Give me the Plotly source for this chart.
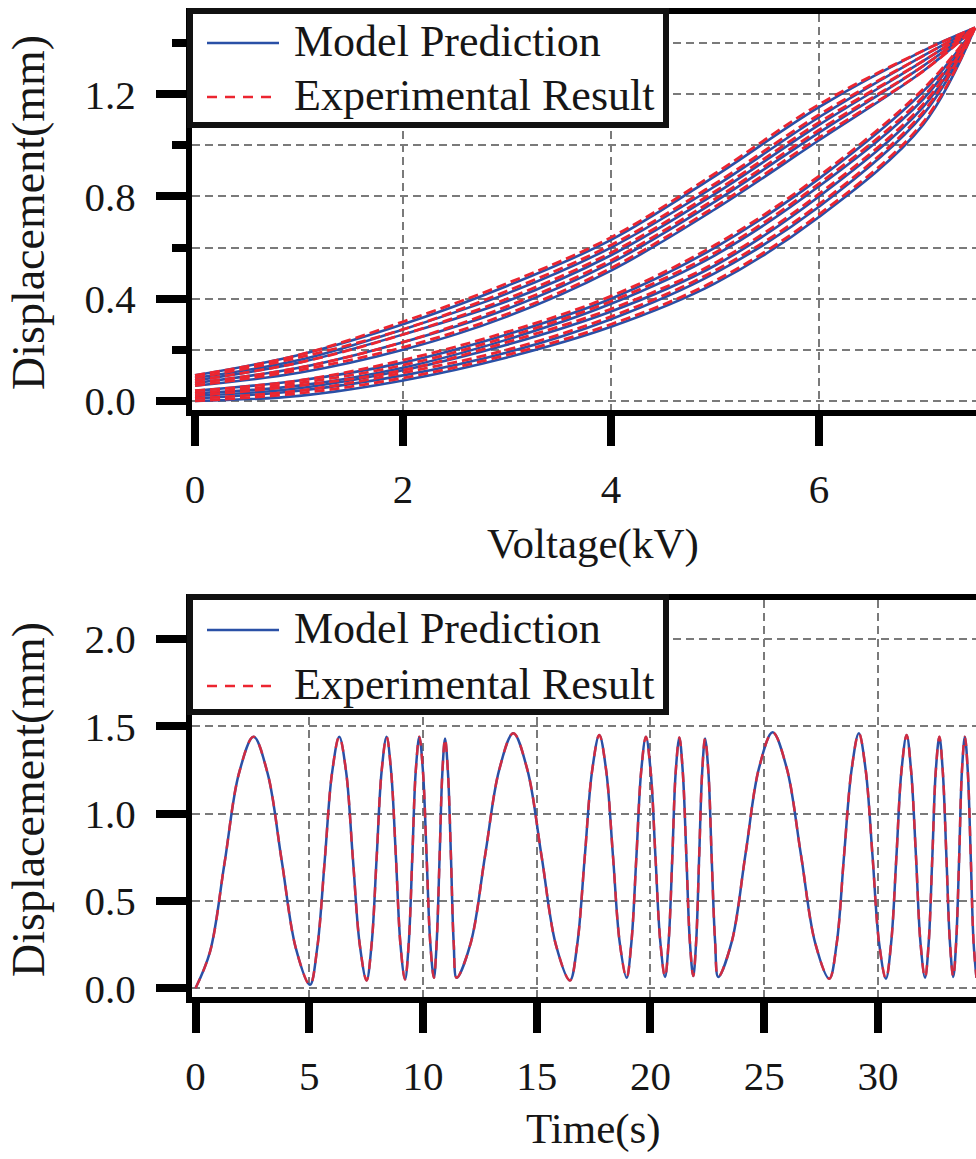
import plotly.graph_objects as go

# ---------------- Data ----------------
# Top panel: displacement (mm) vs voltage (kV), hysteresis loops
voltage_kv = [0, 1, 2, 3, 4, 5, 6, 7, 7.5]

model_rise = [
    [0.00, 0.02, 0.08, 0.17, 0.29, 0.46, 0.72, 1.08, 1.46],
    [0.01, 0.04, 0.10, 0.19, 0.32, 0.50, 0.76, 1.12, 1.46],
    [0.02, 0.05, 0.12, 0.22, 0.35, 0.53, 0.80, 1.15, 1.46],
    [0.03, 0.06, 0.13, 0.24, 0.38, 0.57, 0.84, 1.18, 1.46],
    [0.04, 0.08, 0.15, 0.26, 0.40, 0.60, 0.87, 1.21, 1.46],
]
model_fall = [
    [0.10, 0.18, 0.30, 0.45, 0.63, 0.88, 1.15, 1.37, 1.46],
    [0.09, 0.16, 0.28, 0.42, 0.60, 0.84, 1.11, 1.35, 1.46],
    [0.08, 0.15, 0.26, 0.39, 0.57, 0.81, 1.08, 1.33, 1.46],
    [0.07, 0.13, 0.23, 0.36, 0.54, 0.78, 1.05, 1.31, 1.46],
    [0.06, 0.11, 0.20, 0.33, 0.51, 0.75, 1.02, 1.29, 1.46],
]
exp_rise = [
    [0.00, 0.03, 0.09, 0.18, 0.30, 0.47, 0.73, 1.09, 1.46],
    [0.01, 0.04, 0.11, 0.20, 0.33, 0.51, 0.77, 1.13, 1.46],
    [0.02, 0.06, 0.12, 0.23, 0.36, 0.54, 0.81, 1.16, 1.46],
    [0.03, 0.07, 0.14, 0.25, 0.39, 0.58, 0.85, 1.19, 1.46],
    [0.04, 0.08, 0.16, 0.27, 0.41, 0.61, 0.88, 1.22, 1.46],
]
exp_fall = [
    [0.10, 0.18, 0.31, 0.46, 0.64, 0.89, 1.16, 1.37, 1.46],
    [0.09, 0.17, 0.28, 0.43, 0.61, 0.85, 1.12, 1.35, 1.46],
    [0.08, 0.15, 0.26, 0.40, 0.58, 0.82, 1.09, 1.33, 1.46],
    [0.07, 0.13, 0.23, 0.37, 0.55, 0.79, 1.06, 1.31, 1.46],
    [0.06, 0.12, 0.21, 0.34, 0.52, 0.76, 1.03, 1.29, 1.46],
]

# Bottom panel: displacement (mm) vs time (s)
time_s = [
    0.00, 0.64, 1.28, 1.91, 2.55, 3.17, 3.79, 4.41, 5.03,
    5.35, 5.68, 6.00, 6.32, 6.62, 6.92, 7.22, 7.52,
    7.74, 7.96, 8.18, 8.40, 8.60, 8.81, 9.01, 9.21,
    9.37, 9.53, 9.68, 9.84, 10.00, 10.16, 10.32, 10.48,
    10.60, 10.73, 10.85, 10.97, 11.10, 11.23, 11.35, 11.48,
    12.10, 12.73, 13.35, 13.97, 14.59, 15.22, 15.84, 16.46,
    16.78, 17.11, 17.43, 17.75, 18.05, 18.35, 18.65, 18.95,
    19.16, 19.38, 19.59, 19.80, 20.01, 20.22, 20.43, 20.64,
    20.80, 20.96, 21.11, 21.27, 21.42, 21.58, 21.73, 21.88,
    22.01, 22.14, 22.27, 22.40, 22.55, 22.69, 22.84, 22.98,
    23.58, 24.18, 24.77, 25.37, 25.99, 26.62, 27.24, 27.86,
    28.19, 28.51, 28.84, 29.16, 29.46, 29.76, 30.05, 30.35,
    30.58, 30.81, 31.03, 31.26, 31.46, 31.67, 31.87, 32.07,
    32.23, 32.39, 32.54, 32.70, 32.85, 33.01, 33.16, 33.31,
    33.44, 33.57, 33.69, 33.82, 33.95, 34.08, 34.20, 34.33,
]
model_disp = [
    0.00, 0.21, 0.72, 1.23, 1.44, 1.23, 0.73, 0.23, 0.02,
    0.23, 0.73, 1.23, 1.44, 1.24, 0.74, 0.25, 0.045,
    0.25, 0.74, 1.24, 1.44, 1.24, 0.75, 0.25, 0.05,
    0.25, 0.75, 1.24, 1.44, 1.24, 0.75, 0.26, 0.06,
    0.26, 0.75, 1.23, 1.43, 1.23, 0.75, 0.26, 0.06,
    0.26, 0.76, 1.25, 1.46, 1.25, 0.75, 0.25, 0.045,
    0.25, 0.75, 1.24, 1.45, 1.25, 0.76, 0.26, 0.06,
    0.26, 0.75, 1.24, 1.44, 1.24, 0.75, 0.27, 0.065,
    0.27, 0.75, 1.24, 1.435, 1.24, 0.75, 0.27, 0.07,
    0.27, 0.75, 1.23, 1.43, 1.23, 0.75, 0.27, 0.065,
    0.27, 0.77, 1.26, 1.465, 1.26, 0.76, 0.26, 0.055,
    0.26, 0.76, 1.25, 1.46, 1.25, 0.76, 0.26, 0.055,
    0.26, 0.75, 1.24, 1.45, 1.24, 0.76, 0.26, 0.06,
    0.26, 0.75, 1.24, 1.44, 1.24, 0.75, 0.27, 0.065,
    0.27, 0.75, 1.24, 1.44, 1.24, 0.75, 0.27, 0.06,
]
# the experimental trace lies on top of the model trace in the picture
exp_time_s = time_s
exp_disp = model_disp

legend_labels = ["Model Prediction", "Experimental Result"]
x_title_top = "Voltage(kV)"
x_title_bottom = "Time(s)"
y_title = "Displacement(mm)"

# ---------------- Styles ----------------
BLUE = "#2a50a6"
RED = "#ec2530"
FONT = "Liberation Serif"
TXT = "#161616"
GRID = dict(showgrid=True, gridcolor="#7a7a7a", gridwidth=2, griddash="8px,5px")
AX = dict(showline=True, linecolor="black", linewidth=6, ticks="outside",
          ticklen=30, tickwidth=8, tickcolor="black",
          tickfont=dict(family=FONT, size=41, color=TXT))

fig = go.Figure()

for r in model_rise:
    fig.add_trace(go.Scatter(x=voltage_kv, y=r, mode="lines", xaxis="x", yaxis="y",
                             line=dict(color=BLUE, width=2.6, shape="spline"), showlegend=False))
for f in model_fall:
    fig.add_trace(go.Scatter(x=voltage_kv, y=f, mode="lines", xaxis="x", yaxis="y",
                             line=dict(color=BLUE, width=2.6, shape="spline"), showlegend=False))
for r in exp_rise:
    fig.add_trace(go.Scatter(x=voltage_kv, y=r, mode="lines", xaxis="x", yaxis="y",
                             line=dict(color=RED, width=2.8, shape="spline", dash="10px,5px"),
                             showlegend=False))
for f in exp_fall:
    fig.add_trace(go.Scatter(x=voltage_kv, y=f, mode="lines", xaxis="x", yaxis="y",
                             line=dict(color=RED, width=2.8, shape="spline", dash="10px,5px"),
                             showlegend=False))

fig.add_trace(go.Scatter(x=time_s, y=model_disp, mode="lines", xaxis="x2", yaxis="y2",
                         line=dict(color=BLUE, width=2.5, shape="spline"), showlegend=False))
fig.add_trace(go.Scatter(x=exp_time_s, y=exp_disp, mode="lines", xaxis="x2", yaxis="y2",
                         opacity=0.85,
                         line=dict(color=RED, width=2.5, shape="spline", dash="10px,8px"),
                         showlegend=False))

fig.update_layout(
    width=976, height=1159, autosize=False,
    margin=dict(l=192, r=0, t=14, b=162, pad=0),
    paper_bgcolor="white", plot_bgcolor="white",
    xaxis=dict(domain=[0, 1], anchor="y", range=[-0.0288, 7.5096], dtick=2, tick0=0,
               mirror=True, zeroline=True, zerolinecolor="rgba(0,0,0,0)",
               ticklabelstandoff=8, **GRID, **AX),
    yaxis=dict(domain=[0.5972, 1], anchor="x", range=[-0.0352, 1.514], dtick=0.4, tick0=0,
               tickformat=".1f", zeroline=False, ticklabelstandoff=12,
               minor=dict(dtick=0.2, tick0=0, ticks="outside", ticklen=14, tickwidth=8,
                          tickcolor="black", **GRID),
               **GRID, **AX),
    xaxis2=dict(domain=[0, 1], anchor="y2", range=[-0.154, 34.31], dtick=5, tick0=0,
                mirror=True, zeroline=True, zerolinecolor="rgba(0,0,0,0)",
                ticklabelstandoff=8, **GRID, **AX),
    yaxis2=dict(domain=[0, 0.4039], anchor="x2", range=[-0.0498, 2.2227], dtick=0.5, tick0=0,
                tickformat=".1f", zeroline=False, ticklabelstandoff=12, **GRID, **AX),
)

# ---------------- Legends (drawn as boxes) ----------------
def px_x(px):
    return (px - 192) / 784.0

def px_y(py):
    return (997 - py) / 983.0

shapes = []
annotations = []
for top, blue_y, red_y, bottom in [(11, 43, 97, 125), (597, 630, 686, 712)]:
    shapes.append(dict(type="rect", xref="paper", yref="paper", layer="above",
                       x0=px_x(190), x1=px_x(666), y0=px_y(bottom), y1=px_y(top),
                       line=dict(color="#111111", width=6), fillcolor="white"))
    shapes.append(dict(type="line", xref="paper", yref="paper", layer="above",
                       x0=px_x(207), x1=px_x(279), y0=px_y(blue_y), y1=px_y(blue_y),
                       line=dict(color=BLUE, width=2.5)))
    shapes.append(dict(type="line", xref="paper", yref="paper", layer="above",
                       x0=px_x(207), x1=px_x(279), y0=px_y(red_y), y1=px_y(red_y),
                       line=dict(color=RED, width=2.5, dash="10px,8px")))
    for lab, yy in zip(legend_labels, [blue_y, red_y]):
        annotations.append(dict(text=lab, xref="paper", yref="paper", showarrow=False,
                                x=px_x(292), y=px_y(yy - 2), xanchor="left", yanchor="middle",
                                font=dict(family=FONT, size=44, color=TXT)))

annotations.append(dict(text=x_title_top, xref="paper", yref="paper", showarrow=False,
                        x=px_x(593), y=px_y(544), xanchor="center", yanchor="middle",
                        font=dict(family=FONT, size=43, color=TXT)))
annotations.append(dict(text=x_title_bottom, xref="paper", yref="paper", showarrow=False,
                        x=px_x(593), y=px_y(1129), xanchor="center", yanchor="middle",
                        font=dict(family=FONT, size=43, color=TXT)))
for cy in [213, 800]:
    annotations.append(dict(text=y_title, xref="paper", yref="paper", showarrow=False,
                            x=px_x(28), y=px_y(cy), xanchor="center", yanchor="middle",
                            textangle=-90, font=dict(family=FONT, size=46, color=TXT)))

fig.update_layout(shapes=shapes, annotations=annotations)

fig.write_html("out.html", config={"displayModeBar": False},
               post_script="document.body.style.margin='0';document.body.style.overflow='hidden';")
